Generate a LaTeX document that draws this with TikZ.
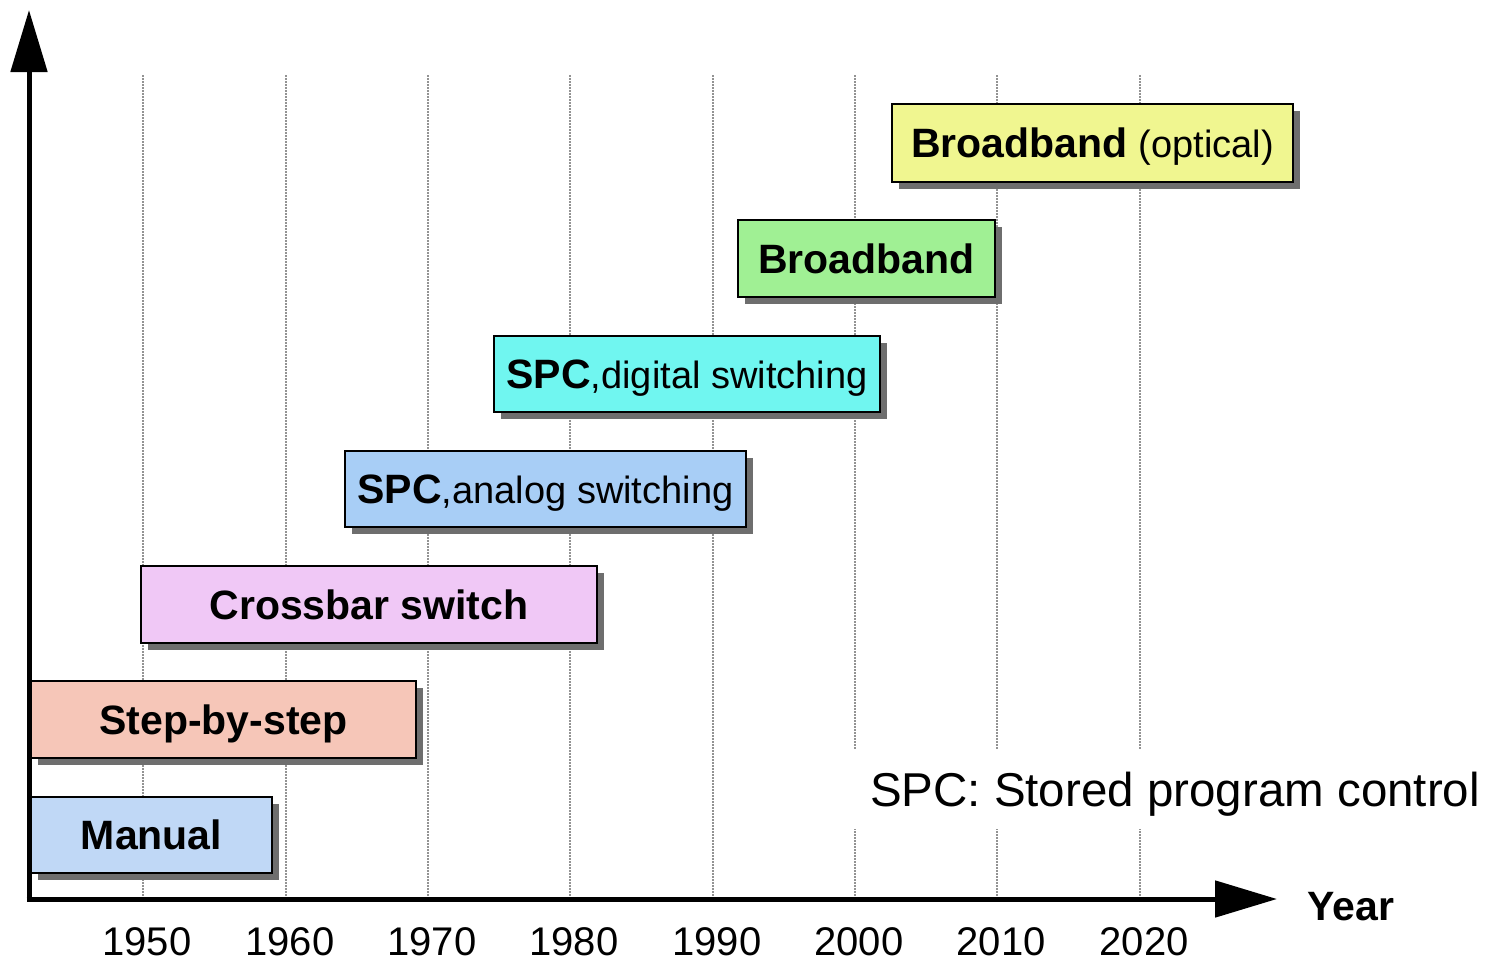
\documentclass[tikz,border=0pt]{standalone}
\usepackage{fontspec}
\setmainfont{Liberation Sans}
\usetikzlibrary{arrows.meta,shadows}

\definecolor{manualfill}{RGB}{192,216,246}
\definecolor{stepfill}{RGB}{246,198,184}
\definecolor{crossfill}{RGB}{240,200,246}
\definecolor{analogfill}{RGB}{168,206,246}
\definecolor{digitalfill}{RGB}{112,246,240}
\definecolor{bbfill}{RGB}{160,240,148}
\definecolor{opticalfill}{RGB}{240,246,144}
\definecolor{shadowgray}{RGB}{110,110,110}

\newcommand{\lite}[1]{{\fontsize{38}{44}\selectfont\mdseries #1}}

\begin{document}
\begin{tikzpicture}[x=1pt,y=-1pt,
  gridline/.style={gray!85, line width=1.5pt, dash pattern=on 1.5pt off 1.5pt},
  axisline/.style={line width=5pt, shorten <=-2.5pt, -{Triangle[length=62pt,width=36pt]}},
  era/.style={draw=black, line width=2.5pt, inner sep=0pt,
    text height=29.4pt, text depth=0pt,
    font=\fontsize{41}{48}\selectfont\bfseries,
    drop shadow={shadow xshift=7pt, shadow yshift=-7pt, fill=shadowgray, opacity=1}},
  yearlabel/.style={font=\fontsize{40}{46}\selectfont, inner sep=0pt, text height=28.6pt, text depth=0pt}
]
\useasboundingbox (0,0) rectangle (1491,961);

% vertical dotted year lines
\foreach \yr/\xx in {1950/143,1960/286,1970/428,1980/570,1990/713,2000/855,2010/997,2020/1140}{
  \coordinate (top\yr) at (\xx,75);
  \coordinate (bot\yr) at (\xx,899);
  \draw[gridline] (top\yr) -- (bot\yr);
  \node[yearlabel] (lab\yr) at (\xx+4,941) {\yr};
}

% legend note (white background interrupts the grid lines)
\node[fill=white, inner xsep=16pt, inner ysep=0pt, minimum height=80pt,
      text height=34pt, text depth=0pt,
      font=\fontsize{47.5}{54}\selectfont] (note) at (1175,789) {SPC: Stored program control};

% axes
\coordinate (origin) at (29,899);
\coordinate (ytip) at (29,10);
\coordinate (xtip) at (1277,899);
\draw[axisline] (origin) -- (ytip);
\draw[axisline] (origin) -- (xtip);
\node[font=\fontsize{41}{48}\selectfont\bfseries, inner sep=0pt, text height=29.4pt, text depth=0pt] (yearaxis) at (1351,906) {Year};

% switching eras
\node[era, fill=manualfill, minimum width=241pt, minimum height=76pt] (manual) at (151.5,835) {Manual};
\node[era, fill=stepfill, minimum width=385pt, minimum height=77pt] (step) at (223.5,719.5) {Step-by-step};
\node[era, fill=crossfill, minimum width=456pt, minimum height=77pt] (cross) at (369,604.5) {Crossbar switch};
\node[era, fill=analogfill, minimum width=401pt, minimum height=76pt] (analog) at (545.5,489) {SPC\lite{,analog switching}};
\node[era, fill=digitalfill, minimum width=386pt, minimum height=76pt] (digital) at (687,374) {SPC\lite{,digital switching}};
\node[era, fill=bbfill, minimum width=257pt, minimum height=77pt] (bb) at (866.5,258.5) {Broadband};
\node[era, fill=opticalfill, minimum width=401pt, minimum height=78pt] (optical) at (1092.5,143) {Broadband \lite{(optical)}};
\end{tikzpicture}
\end{document}
